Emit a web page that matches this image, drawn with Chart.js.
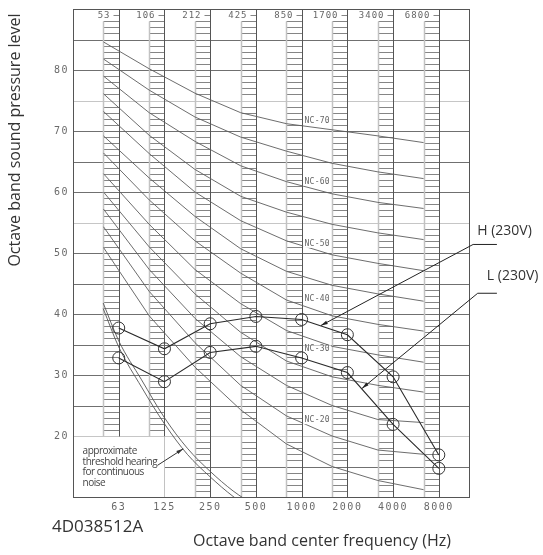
<!DOCTYPE html>
<html>
<head>
<meta charset="utf-8">
<script src="https://cdn.jsdelivr.net/npm/chart.js@4.4.1/dist/chart.umd.min.js"></script>
<style>
  html, body { margin: 0; padding: 0; background: #fff; }
  #wrap { width: 543px; height: 555px; }
</style>
</head>
<body>
<div id="wrap"><canvas id="ncChart" width="543" height="555"></canvas></div>
<script>
// Octave bands (center and lower edge, Hz) and level ticks (dB)
const bands = ['63', '125', '250', '500', '1000', '2000', '4000', '8000'];
const bandLower = ['53', '106', '212', '425', '850', '1700', '3400', '6800'];
const levelTicks = [20, 30, 40, 50, 60, 70, 80];

// Measured octave band levels
const highLevels = [37.7, 34.3, 38.4, 39.6, 39.1, 36.6, 29.7, 16.9];
const lowLevels = [32.8, 28.9, 33.7, 34.7, 32.8, 30.4, 21.9, 14.7];

// NC curves, read at the lower edge of each band strip
const ncNames = ['NC-70', 'NC-65', 'NC-60', 'NC-55', 'NC-50', 'NC-45', 'NC-40', 'NC-35', 'NC-30', 'NC-25', 'NC-20', 'NC-15'];
const nc70 = [84.6, 80.2, 76.2, 73.0, 71.2, 70.2, 69.2, 68.1];
const nc65 = [81.8, 76.7, 72.3, 69.0, 66.7, 64.7, 63.3, 62.2];
const nc60 = [79.0, 73.0, 68.3, 64.3, 61.7, 59.7, 58.3, 57.3];
const nc55 = [76.1, 69.3, 63.7, 59.3, 56.7, 54.7, 53.3, 52.2];
const nc50 = [73.2, 66.3, 60.0, 55.3, 52.0, 49.7, 48.3, 47.1];
const nc45 = [69.2, 62.3, 56.0, 50.7, 47.0, 44.7, 43.3, 42.1];
const nc40 = [66.4, 58.7, 52.0, 46.7, 42.3, 39.7, 38.3, 37.2];
const nc35 = [63.0, 54.7, 47.3, 41.7, 37.3, 34.7, 33.3, 32.1];
const nc30 = [60.0, 51.0, 43.3, 37.0, 32.3, 29.7, 28.3, 27.2];
const nc25 = [57.2, 47.3, 39.3, 33.0, 28.3, 25.0, 22.7, 22.2];
const nc20 = [54.3, 43.7, 35.3, 28.3, 23.3, 20.0, 17.7, 17.0];
const nc15 = [50.9, 39.7, 31.3, 24.3, 18.7, 15.0, 12.7, 11.2];
const ncCurves = [nc70, nc65, nc60, nc55, nc50, nc45, nc40, nc35, nc30, nc25, nc20, nc15];

// tagged curves and the level their tag sits at
const ncTagNames = ['NC-70', 'NC-60', 'NC-50', 'NC-40', 'NC-30', 'NC-20'];
const ncTagLevels = [71.7, 61.7, 51.5, 42.4, 34.2, 22.6];

// approximate threshold of hearing (octaves from 63 Hz, dB)
const thresholdOct = [-0.34, 0, 0.5, 1, 1.5, 2, 2.5, 3];
const thresholdHigh = [41.8, 35.6, 29.2, 23.0, 18.0, 14.2, 11.0, 8.5];
const thresholdLow = [40.9, 34.6, 28.0, 22.0, 17.0, 13.3, 10.1, 7.6];

const STRIP = 1 / 3;            // width of a band strip, in octaves
const lightRules = [75, 55, 20];
const TICK_FONT = '"DejaVu Sans Mono", monospace';
const TEXT_FONT = '"Open Sans", "Noto Sans", sans-serif';

const toPoints = (vals, shift) => vals.map((v, i) => ({ x: i - shift, y: v }));

function stroke(ctx, pts) {
  ctx.beginPath();
  pts.forEach(([px, py], i) => (i ? ctx.lineTo(px, py) : ctx.moveTo(px, py)));
  ctx.stroke();
}

function text(ctx, str, px, py, font, color, align, spacing) {
  ctx.font = font;
  ctx.fillStyle = color;
  ctx.textAlign = align || 'left';
  ctx.textBaseline = 'middle';
  ctx.letterSpacing = spacing || '0px';
  ctx.fillText(str, px, py);
  ctx.letterSpacing = '0px';
}

function arrow(ctx, x0, y0, x1, y1) {
  stroke(ctx, [[x0, y0], [x1, y1]]);
  const ang = Math.atan2(y1 - y0, x1 - x0);
  const len = 7, half = 1.8;
  ctx.beginPath();
  ctx.moveTo(x1, y1);
  ctx.lineTo(x1 - len * Math.cos(ang) + half * Math.sin(ang), y1 - len * Math.sin(ang) - half * Math.cos(ang));
  ctx.lineTo(x1 - len * Math.cos(ang) - half * Math.sin(ang), y1 - len * Math.sin(ang) + half * Math.cos(ang));
  ctx.closePath();
  ctx.fill();
}

// grid, band strips and frame
const sheet = {
  id: 'sheet',
  beforeDatasetsDraw(chart) {
    const { ctx, chartArea: a, scales: { x, y } } = chart;
    const X = v => Math.round(x.getPixelForValue(v)) + 0.5;
    const Y = v => Math.round(y.getPixelForValue(v)) + 0.5;
    ctx.save();
    ctx.lineWidth = 1;

    for (let v = 15; v <= 85; v += 5) {
      ctx.strokeStyle = lightRules.includes(v) ? '#c6c6c6' : '#707070';
      stroke(ctx, [[v < 20 ? X(1) : a.left, Y(v)], [a.right, Y(v)]]);
    }

    bands.forEach((b, i) => {
      const r = X(i), l = X(i - STRIP);
      const floor = i < 2 ? 20 : 10;
      ctx.lineWidth = 1;
      ctx.strokeStyle = '#858585';
      for (let v = floor + 1; v <= 88; v++) {
        if (v % 5) stroke(ctx, [[l, Y(v)], [r, Y(v)]]);
      }
      stroke(ctx, [[r - 6, Y(89)], [r, Y(89)]]);
      ctx.strokeStyle = '#c2c2c2';
      ctx.lineWidth = 1.5;
      stroke(ctx, [[l, Y(88)], [l, Y(floor)]]);
      ctx.lineWidth = 1;
      ctx.strokeStyle = '#555';
      stroke(ctx, [[r, a.top], [r, Y(floor)]]);
      if (i === 1) {
        ctx.strokeStyle = '#c2c2c2';
        stroke(ctx, [[r, Y(20)], [r, a.bottom]]);
      }
      text(ctx, bandLower[i], r - 9, Y(89), '9px ' + TICK_FONT, '#666', 'right', '1px');
    });

    ctx.strokeStyle = '#555';
    ctx.strokeRect(Math.round(a.left) + 0.5, Math.round(a.top) + 0.5,
      Math.round(a.right - a.left), Math.round(a.bottom - a.top));
    ctx.restore();
  }
};

// NC tags, drawn once the top NC curve is on the canvas
const ncTags = {
  id: 'ncTags',
  afterDatasetDraw(chart, args) {
    if (args.index !== 4) return;
    const { ctx, scales: { x, y } } = chart;
    const cx = x.getPixelForValue(4.34);
    ctx.save();
    ncTagNames.forEach((name, k) => {
      const cy = y.getPixelForValue(ncTagLevels[k]);
      ctx.font = '8px ' + TICK_FONT;
      const w = ctx.measureText(name).width + 2;
      ctx.fillStyle = '#fff';
      ctx.fillRect(cx - w / 2 - 1, cy - 4, w + 2, 8);
      text(ctx, name, cx, cy, '8px ' + TICK_FONT, '#666', 'center', '0.3px');
    });
    ctx.restore();
  }
};

// tick labels, titles and leaders
const notes = {
  id: 'notes',
  afterDraw(chart) {
    const { ctx, chartArea: a, scales: { x, y } } = chart;
    const X = v => x.getPixelForValue(v);
    const Y = v => y.getPixelForValue(v);
    ctx.save();

    levelTicks.forEach(v => text(ctx, String(v), a.left - 4, Y(v), '10px ' + TICK_FONT, '#6a6a6a', 'right', '1.5px'));
    bands.forEach((b, i) => text(ctx, b, X(i), a.bottom + 10, '10px ' + TICK_FONT, '#6a6a6a', 'center', '1.5px'));

    ctx.save();
    ctx.translate(15, 140);
    ctx.rotate(-Math.PI / 2);
    text(ctx, 'Octave band sound pressure level', 0, 0, '16px ' + TEXT_FONT, '#333', 'center');
    ctx.restore();
    text(ctx, 'Octave band center frequency (Hz)', 322, 541, '16px ' + TEXT_FONT, '#333', 'center');
    text(ctx, '4D038512A', 52, 527, '17px ' + TEXT_FONT, '#333', 'left');

    // series leaders
    ctx.strokeStyle = '#222';
    ctx.fillStyle = '#222';
    ctx.lineWidth = 1;
    stroke(ctx, [[X(8.27), Y(51.4)], [X(7.75), Y(51.4)]]);
    arrow(ctx, X(7.75), Y(51.4), X(4.42), Y(38.1));
    stroke(ctx, [[X(8.27), Y(43.4)], [X(7.85), Y(43.4)]]);
    arrow(ctx, X(7.85), Y(43.4), X(5.32), Y(27.8));
    text(ctx, 'H (230V)', X(7.84), Y(53.6), '14px ' + TEXT_FONT, '#333', 'left');
    text(ctx, 'L (230V)', X(8.05), Y(46.2), '14px ' + TEXT_FONT, '#333', 'left');

    // hearing threshold note
    const note = ['approximate', 'threshold hearing', 'for continuous', 'noise'];
    note.forEach((s, k) => text(ctx, s, X(-0.79), Y(17.45) + k * 10.5,
      '10px ' + TEXT_FONT, '#444', 'left', '-0.5px'));
    ctx.strokeStyle = '#333';
    ctx.fillStyle = '#333';
    arrow(ctx, X(0.85), Y(15.2), X(1.41), Y(17.9));
    ctx.restore();
  }
};

const datasets = [
  {
    label: 'H (230V)', data: toPoints(highLevels, 0),
    borderColor: '#2a2a2a', borderWidth: 1.1, pointRadius: 6, pointBorderWidth: 1,
    pointBorderColor: '#333', pointBackgroundColor: 'rgba(0,0,0,0)'
  },
  {
    label: 'L (230V)', data: toPoints(lowLevels, 0),
    borderColor: '#2a2a2a', borderWidth: 1.1, pointRadius: 6, pointBorderWidth: 1,
    pointBorderColor: '#333', pointBackgroundColor: 'rgba(0,0,0,0)'
  },
  {
    label: 'threshold', data: thresholdOct.map((o, i) => ({ x: o, y: thresholdHigh[i] })),
    borderColor: '#555', borderWidth: 0.9, pointRadius: 0, cubicInterpolationMode: 'monotone'
  },
  {
    label: 'threshold', data: thresholdOct.map((o, i) => ({ x: o, y: thresholdLow[i] })),
    borderColor: '#555', borderWidth: 0.9, pointRadius: 0, cubicInterpolationMode: 'monotone'
  },
  ...ncCurves.map((vals, k) => ({
    label: ncNames[k], data: toPoints(vals, STRIP),
    borderColor: '#5c5c5c', borderWidth: 0.9, pointRadius: 0
  }))
];

new Chart(document.getElementById('ncChart'), {
  type: 'line',
  data: { datasets },
  options: {
    responsive: false,
    animation: false,
    layout: { padding: { left: 73, top: 9, right: 74, bottom: 58 } },
    scales: {
      x: { type: 'linear', min: -1, max: 7.66, display: false },
      y: { type: 'linear', min: 10, max: 90, display: false }
    },
    plugins: { legend: { display: false }, tooltip: { enabled: false } }
  },
  plugins: [sheet, ncTags, notes]
});
</script>
</body>
</html>
